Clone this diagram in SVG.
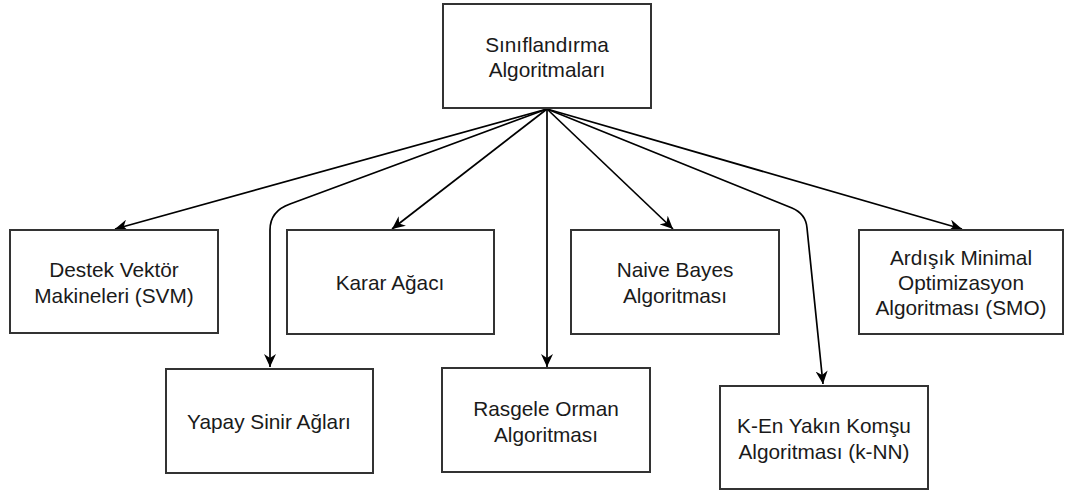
<svg xmlns="http://www.w3.org/2000/svg" width="1065" height="494" viewBox="0 0 1065 494">
  <style>
    .box { fill: #ffffff; stroke: #333333; stroke-width: 2; }
    .lbl { font-family: "Liberation Sans", Arial, sans-serif; font-size: 20.8px; fill: #1a1a1a; text-anchor: middle; dominant-baseline: central; }
    .edge { fill: none; stroke: #000000; stroke-width: 1.7; marker-end: url(#arrow); }
  </style>
  <defs>
    <marker id="arrow" markerUnits="userSpaceOnUse" markerWidth="14" markerHeight="12" viewBox="0 0 14 12" refX="13" refY="6" orient="auto">
      <path d="M0,0 L13,6 L0,12 L4,6 Z" fill="#000000"/>
    </marker>
  </defs>

  <rect width="1065" height="494" fill="#ffffff"/>

  <!-- connectors from the root node -->
  <g id="connectors">
    <path class="edge" d="M547,109 L115,229"/>
    <path class="edge" d="M547,109 L290,204 Q270,211 270,230 L270,367"/>
    <path class="edge" d="M547,109 L392,229"/>
    <path class="edge" d="M547,109 L547,367"/>
    <path class="edge" d="M547,109 L673,229"/>
    <path class="edge" d="M547,109 L792,208 Q806,214 807,228 L823,384"/>
    <path class="edge" d="M547,109 L962,229"/>
  </g>

  <g id="root">
    <rect class="box" x="443" y="4" width="208" height="104"/>
    <text class="lbl" x="547" y="44">Sınıflandırma</text>
    <text class="lbl" x="547" y="69">Algoritmaları</text>
  </g>

  <g id="svm">
    <rect class="box" x="10" y="230" width="208" height="103"/>
    <text class="lbl" x="114" y="269">Destek Vektör</text>
    <text class="lbl" x="114" y="295">Makineleri (SVM)</text>
  </g>

  <g id="karar">
    <rect class="box" x="287" y="230" width="207" height="104"/>
    <text class="lbl" x="390" y="282">Karar Ağacı</text>
  </g>

  <g id="naive">
    <rect class="box" x="571" y="230" width="208" height="104"/>
    <text class="lbl" x="675" y="269">Naive Bayes</text>
    <text class="lbl" x="675" y="295">Algoritması</text>
  </g>

  <g id="smo">
    <rect class="box" x="859" y="230" width="204" height="104"/>
    <text class="lbl" x="961" y="257">Ardışık Minimal</text>
    <text class="lbl" x="961" y="282">Optimizasyon</text>
    <text class="lbl" x="961" y="307">Algoritması (SMO)</text>
  </g>

  <g id="yapay">
    <rect class="box" x="166" y="369" width="207" height="104"/>
    <text class="lbl" x="269" y="421">Yapay Sinir Ağları</text>
  </g>

  <g id="rasgele">
    <rect class="box" x="442" y="368" width="208" height="104"/>
    <text class="lbl" x="546" y="408">Rasgele Orman</text>
    <text class="lbl" x="546" y="434">Algoritması</text>
  </g>

  <g id="knn">
    <rect class="box" x="720" y="386" width="208" height="103"/>
    <text class="lbl" x="824" y="425">K-En Yakın Komşu</text>
    <text class="lbl" x="824" y="451">Algoritması (k-NN)</text>
  </g>
</svg>
